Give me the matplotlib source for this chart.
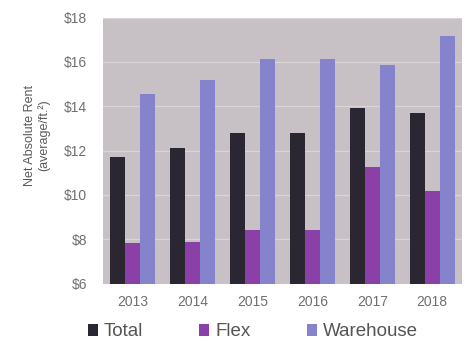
import matplotlib
matplotlib.use("Agg")
import matplotlib.pyplot as plt
from matplotlib.patches import Patch
import numpy as np

plt.rcParams['font.family'] = ['Liberation Sans', 'DejaVu Sans']

years = ["2013", "2014", "2015", "2016", "2017", "2018"]
total = [11.7, 12.1, 12.8, 12.8, 13.9, 13.7]
flex = [7.85, 7.9, 8.4, 8.4, 11.25, 10.2]
warehouse = [14.55, 15.2, 16.15, 16.15, 15.85, 17.15]
series_names = ["Total", "Flex", "Warehouse"]
colors = ["#2a2632", "#8b40a8", "#8583cb"]
yticks = [6, 8, 10, 12, 14, 16, 18]

fig = plt.figure(figsize=(4.71, 3.42), dpi=100)
ax = fig.add_axes([0.2187, 0.1705, 0.981 - 0.2187, 0.9488 - 0.1705])
ax.set_facecolor("#c7c0c5")

x = np.arange(len(years))
w = 0.25
for i, (vals, c) in enumerate(zip([total, flex, warehouse], colors)):
    ax.bar(x + (i - 1) * w, np.array(vals) - 6, bottom=6, width=w, color=c, zorder=3)

ax.set_xlim(-0.5, len(years) - 0.5)
ax.set_ylim(6, 18)
ax.set_yticks(yticks)
ax.set_yticklabels([f"${v}" for v in yticks])
ax.set_xticks(x)
ax.set_xticklabels(years)
ax.grid(axis='y', color="#dad4d8", linewidth=0.9, zorder=1)
ax.tick_params(axis='y', length=0, pad=11.5, labelsize=10, labelcolor="#707070")
ax.tick_params(axis='x', length=0, pad=8.5, labelsize=10, labelcolor="#707070")
for s in ax.spines.values():
    s.set_visible(False)

fig.text(37 / 471, 1 - 135 / 342, "Net Absolute Rent\n(average/ft.²)", rotation=90,
         ha='center', va='center', fontsize=9, color="#5a5a5a", linespacing=1.1)

handles = [Patch(facecolor=c, edgecolor='none') for c in colors]
fig.legend(handles, series_names, loc='center', bbox_to_anchor=(252.5 / 471, 1 - 332 / 342),
           ncol=3, frameon=False, fontsize=13.5, handlelength=0.55, handleheight=0.55,
           handletextpad=0.3, columnspacing=3.0, labelcolor="#555555", borderpad=0)

fig.savefig("out.png", dpi=100)
